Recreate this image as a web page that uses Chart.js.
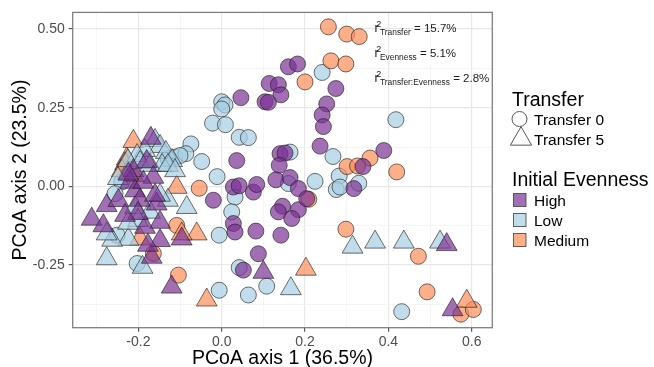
<!DOCTYPE html>
<html>
<head>
<meta charset="utf-8">
<script src="https://cdn.jsdelivr.net/npm/chart.js@4.4.0/dist/chart.umd.min.js"></script>
<style>
  body { margin: 0; background: #fff; }
  #wrap { width: 654px; height: 367px; position: relative; }
</style>
</head>
<body>
<div id="wrap"><canvas id="pcoa"></canvas></div>
<script>
// PCoA scores, [axis 1, axis 2]
const highT0 = [
  [0.114,0.327],[0.136,0.323],[0.160,0.380],[0.182,0.389],[0.142,0.291],[0.104,0.269],
  [0.112,0.267],[0.046,0.282],[0.274,0.311],[0.252,0.262],[0.241,0.227],[0.244,0.190],
  [0.236,0.128],[0.140,0.104],[0.152,0.106],[0.138,0.067],[0.036,0.082],[0.130,0.021],
  [0.164,0.028],[0.184,-0.007],[0.028,-0.002],[0.042,0.002],[0.076,-0.018],[0.084,0.006],
  [-0.020,-0.044],[0.028,-0.118],[0.032,-0.145],[0.082,-0.142],[0.142,-0.155],[0.088,-0.214],
  [0.052,-0.266],[0.146,-0.063],[0.136,-0.081],[0.184,-0.074],[0.168,-0.102],[0.204,-0.039],
  [0.339,0.063],[0.389,0.114],[0.317,-0.007]
];
const lowT0 = [
  [0.000,0.269],[0.008,0.259],[0.000,0.246],[-0.022,0.201],[0.009,0.196],[0.042,0.156],
  [0.064,0.155],[-0.074,0.135],[-0.048,0.079],[-0.112,0.093],[-0.086,0.104],[-0.100,0.098],
  [-0.011,0.031],[0.032,-0.034],[0.024,-0.081],[-0.006,-0.155],[0.042,-0.258],[-0.006,-0.330],
  [0.064,-0.345],[0.108,-0.317],[0.164,0.109],[0.160,0.009],[0.224,0.016],[0.267,0.095],
  [0.282,0.033],[0.275,-0.010],[0.284,-0.002],[0.329,0.010],[0.241,0.362],[0.418,0.212],
  [0.432,-0.398],[-0.240,0.014],[-0.256,-0.023],[-0.251,-0.155],[-0.203,-0.245],[-0.129,0.089]
];
const mediumT0 = [
  [0.256,0.507],[0.300,0.484],[0.330,0.476],[0.262,0.399],[0.298,0.389],[0.200,0.332],
  [0.356,0.090],[0.301,0.063],[0.326,0.065],[0.420,0.046],[0.209,-0.041],[0.298,-0.136],
  [0.472,-0.222],[0.493,-0.335],[0.574,-0.406],[0.604,-0.391],[-0.054,-0.006],[-0.108,-0.124],
  [-0.104,-0.282],[-0.164,-0.213]
];
const highT5 = [
  [-0.170,0.153],[-0.180,0.079],[-0.212,0.050],[-0.164,0.029],[-0.220,0.013],[-0.208,-0.014],
  [-0.312,-0.104],[-0.284,-0.125],[-0.276,-0.061],[-0.248,-0.045],[-0.188,0.013],[-0.156,-0.056],
  [-0.148,-0.114],[-0.184,-0.130],[-0.148,-0.172],[-0.096,-0.167],[-0.168,-0.225],[-0.120,-0.320],
  [-0.196,-0.044],[0.100,-0.273],[0.540,-0.185],[0.554,-0.392],[-0.201,-0.086],[-0.232,-0.092],
  [-0.160,-0.028],[-0.177,-0.187],[-0.224,0.039]
];
const lowT5 = [
  [-0.160,0.146],[-0.148,0.127],[-0.134,0.108],[-0.184,0.114],[-0.203,0.098],[-0.119,0.082],
  [-0.143,0.067],[-0.225,0.044],[-0.249,0.025],[-0.084,-0.067],[-0.224,-0.168],[-0.276,-0.230],
  [-0.190,-0.257],[-0.208,-0.067],[-0.172,-0.082],[-0.263,-0.171],[0.314,-0.193],[0.368,-0.177],
  [0.437,-0.177],[0.524,-0.177],[0.166,-0.325],[-0.129,-0.044],[-0.148,-0.028],
  [-0.225,0.082],[-0.196,0.076],[-0.172,0.067],[-0.129,0.067],[-0.112,0.050],
  [-0.201,-0.108],[-0.225,-0.117],[-0.276,-0.151]
];
const mediumT5 = [
  [-0.212,0.143],[-0.228,0.087],[-0.108,-0.003],[-0.060,-0.151],[-0.096,-0.151],[-0.212,0.035],
  [-0.036,-0.361],[0.202,-0.263],[0.588,-0.365],[-0.232,0.072],[-0.196,-0.167],[-0.240,0.050]
];

const xTicks = [-0.3,-0.2,-0.1,0,0.1,0.2,0.3,0.4,0.5,0.6];
const xLabelled = [-0.2,0,0.2,0.4,0.6];
const yTicks = [-0.375,-0.25,-0.125,0,0.125,0.25,0.375,0.5];
const yLabelled = [-0.25,0,0.25,0.5];
const r2Terms = ["Transfer","Evenness","Transfer:Evenness"];
const r2Values = ["15.7%","5.1%","2.8%"];
const evenLevels = ["High","Low","Medium"];
const transferLevels = ["Transfer 0","Transfer 5"];

const purple = "rgba(123,50,148,0.7)",
      blue = "rgba(166,206,227,0.7)",
      orange = "rgba(252,141,89,0.7)",
      edge = "rgba(30,30,30,0.7)";
const FONT = "'Liberation Sans', Arial, sans-serif";

const pts = arr => arr.map(p => ({x: p[0], y: p[1]}));
const isIn = (list, v) => list.some(t => Math.abs(t - v) < 1e-9);

function makeSet(label, data, color, shape, ord){
    return {
        label: label,
        data: pts(data),
        backgroundColor: color,
        borderColor: edge,
        borderWidth: 0.9,
        pointStyle: shape,
        pointRadius: shape === "triangle" ? 12 : 8,
        pointHoverRadius: shape === "triangle" ? 12 : 8,
        order: ord
    };
}

// panel border, r2 text and legend
const extras = {
    id: "extras",
    afterDatasetsDraw(chart){
        const ctx = chart.ctx, a = chart.chartArea;
        ctx.save();
        ctx.strokeStyle = "#7f7f7f";
        ctx.lineWidth = 1.3;
        ctx.strokeRect(a.left, a.top, a.right - a.left, a.bottom - a.top);

        // r2 annotation
        ctx.fillStyle = "#1a1a1a";
        ctx.textBaseline = "alphabetic";
        ctx.textAlign = "left";
        r2Terms.forEach((term, i) => {
            const base = 31.7 + i * 25;
            let x = 374.5;
            ctx.font = "12.5px " + FONT;
            ctx.fillText("r", x, base);
            ctx.font = "9px " + FONT;
            ctx.fillText("2", x + 1.8, base - 5);
            x += 5.5;
            ctx.font = "8.4px " + FONT;
            ctx.fillText(term, x, base + 3.3);
            x += ctx.measureText(term).width;
            ctx.font = "11.5px " + FONT;
            ctx.fillText(" = " + r2Values[i], x, base);
        });

        // axis titles
        ctx.fillStyle = "#000";
        ctx.font = "19.5px " + FONT;
        ctx.textAlign = "center";
        ctx.fillText("PCoA axis 1 (36.5%)", (a.left + a.right) / 2, 364);
        ctx.save();
        ctx.translate(26, (a.top + a.bottom) / 2);
        ctx.rotate(-Math.PI / 2);
        ctx.fillText("PCoA axis 2 (23.5%)", 0, 0);
        ctx.restore();

        // legend
        ctx.textAlign = "left";
        ctx.font = "19.5px " + FONT;
        ctx.fillText("Transfer", 512, 106);
        ctx.fillText("Initial Evenness", 512, 186);
        ctx.font = "15.5px " + FONT;
        ctx.fillText(transferLevels[0], 534, 125);
        ctx.fillText(transferLevels[1], 534, 144.5);
        ctx.strokeStyle = "#555";
        ctx.lineWidth = 1;
        ctx.fillStyle = "#fff";
        ctx.beginPath();
        ctx.arc(519.5, 119, 7.5, 0, Math.PI * 2);
        ctx.fill(); ctx.stroke();
        const tr = 12.3, tx = 521, ty = 139;
        ctx.beginPath();
        ctx.moveTo(tx, ty - tr);
        ctx.lineTo(tx + tr * 0.866, ty + tr / 2);
        ctx.lineTo(tx - tr * 0.866, ty + tr / 2);
        ctx.closePath();
        ctx.fill(); ctx.stroke();

        const sq = [purple, blue, orange];
        evenLevels.forEach((lab, i) => {
            const y = 193.5 + i * 20;
            ctx.fillStyle = "#fff";
            ctx.fillRect(513.5, y, 12.5, 13);
            ctx.fillStyle = sq[i];
            ctx.fillRect(513.5, y, 12.5, 13);
            ctx.strokeStyle = "rgba(60,60,60,0.8)";
            ctx.strokeRect(513.5, y, 12.5, 13);
            ctx.fillStyle = "#000";
            ctx.fillText(lab, 534, y + 12.7);
        });
        ctx.restore();
    }
};

new Chart(document.getElementById("pcoa"), {
    type: "scatter",
    data: {
        datasets: [
            makeSet("High / Transfer 5", highT5, purple, "triangle", 0),
            makeSet("Low / Transfer 5", lowT5, blue, "triangle", 1),
            makeSet("Medium / Transfer 5", mediumT5, orange, "triangle", 2),
            makeSet("High / Transfer 0", highT0, purple, "circle", 3),
            makeSet("Medium / Transfer 0", mediumT0, orange, "circle", 4),
            makeSet("Low / Transfer 0", lowT0, blue, "circle", 5)
        ]
    },
    options: {
        responsive: true,
        maintainAspectRatio: false,
        animation: false,
        layout: { autoPadding: false, padding: { left: 0, right: 161.7, top: 12.3, bottom: 0 } },
        plugins: { legend: { display: false }, tooltip: { enabled: false } },
        scales: {
            x: {
                type: "linear",
                min: -0.3576, max: 0.6494,
                afterBuildTicks: s => { s.ticks = xTicks.map(v => ({value: v})); },
                afterFit: s => { s.height = 39.3; },
                border: { display: false },
                grid: {
                    color: c => isIn(xLabelled, c.tick.value) ? "#e8e8e8" : "#f3f3f3",
                    lineWidth: c => isIn(xLabelled, c.tick.value) ? 1.2 : 0.8,
                    tickColor: c => isIn(xLabelled, c.tick.value) ? "#555" : "rgba(0,0,0,0)",
                    tickLength: 4
                },
                ticks: {
                    autoSkip: false, maxRotation: 0, padding: 2,
                    color: "#4d4d4d",
                    font: { family: FONT, size: 14 },
                    callback: v => isIn(xLabelled, v) ? v.toFixed(1) : ""
                }
            },
            y: {
                type: "linear",
                min: -0.449, max: 0.5529,
                afterBuildTicks: s => { s.ticks = yTicks.map(v => ({value: v})); },
                afterFit: s => { s.width = 72.7; },
                border: { display: false },
                grid: {
                    color: c => isIn(yLabelled, c.tick.value) ? "#e8e8e8" : "#f3f3f3",
                    lineWidth: c => isIn(yLabelled, c.tick.value) ? 1.2 : 0.8,
                    tickColor: c => isIn(yLabelled, c.tick.value) ? "#555" : "rgba(0,0,0,0)",
                    tickLength: 4
                },
                ticks: {
                    autoSkip: false, padding: 4,
                    color: "#4d4d4d",
                    font: { family: FONT, size: 14 },
                    callback: v => isIn(yLabelled, v) ? v.toFixed(2) : ""
                }
            }
        }
    },
    plugins: [extras]
});
</script>
</body>
</html>
